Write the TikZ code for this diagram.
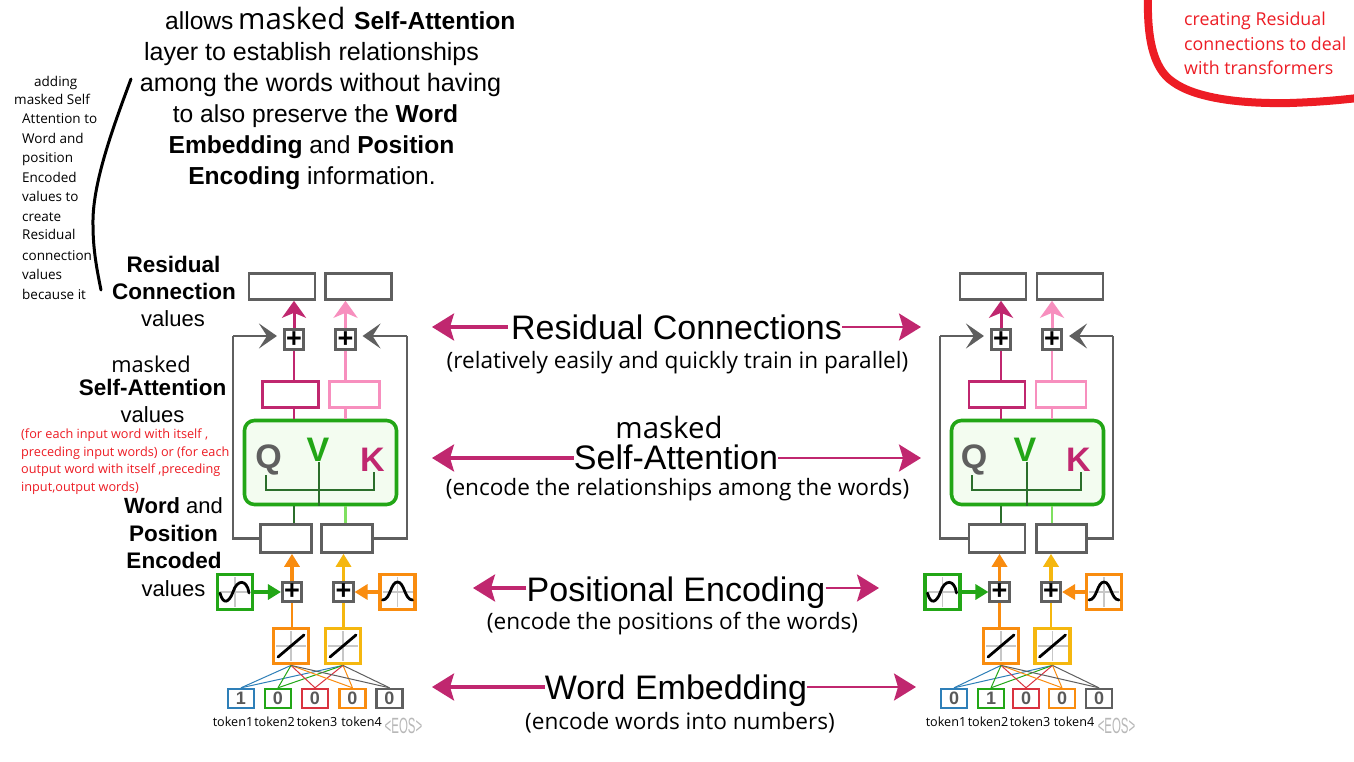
\documentclass[tikz,border=0pt]{standalone}
\usepackage{fontspec}
\usepackage{graphicx}
\setmainfont{Liberation Sans}
\newfontfamily\uifont{Open Sans}
\usetikzlibrary{arrows.meta,calc}
\definecolor{mag}{HTML}{C0276F}
\definecolor{lpink}{HTML}{F78FBE}
\definecolor{gbox}{HTML}{5F5F5F}
\definecolor{grn}{HTML}{22A616}
\definecolor{dgrn}{HTML}{2B6E2B}
\definecolor{lgrn}{HTML}{7FE060}
\definecolor{paleg}{HTML}{F3FCF0}
\definecolor{org}{HTML}{F98C0F}
\definecolor{yel}{HTML}{F5B70F}
\definecolor{blu}{HTML}{2E7FB8}
\definecolor{rd}{HTML}{D9333F}
\definecolor{noteRed}{HTML}{ED1C24}
\newcommand{\fs}[1]{\fontsize{#1}{#1}\selectfont}
\tikzset{
 x=1pt,y=-1pt,
 txt/.style={inner sep=0pt,anchor=base,text=black},
 big/.style={txt,font=\fs{34}},
 sub/.style={txt,font=\uifont\fs{22.6}},
 top/.style={txt,font=\fs{25}},
 lab/.style={txt,font=\fs{22}},
 note/.style={inner sep=0pt,anchor=base west,font=\uifont\fs{13.5}},
 rednote/.style={inner sep=0pt,anchor=base west,text=noteRed,font=\uifont\fs{12.7}},
 rednoteb/.style={inner sep=0pt,anchor=base west,text=noteRed,font=\uifont\fs{17.8}},
 tok/.style={inner sep=0pt,anchor=base,font=\uifont\fs{12.6}},
 bx/.style n args={3}{draw=#1,line width=2.6pt,fill=white,inner sep=0pt,minimum width=#2 pt,minimum height=#3 pt},
 plusbox/.style={draw=gbox,line width=2.6pt,fill=white,inner sep=0pt,minimum size=19.5pt,font=\bfseries\fs{27}},
 tokbox/.style={draw=#1,line width=2.4pt,fill=white,inner sep=0pt,minimum width=26pt,minimum height=19pt,text=black!65,font=\bfseries\fs{18}},
 icon/.style={draw=#1,line width=3.8pt,fill=white,inner sep=0pt,minimum size=35pt},
 attn/.style={draw=grn,line width=3.6pt,fill=paleg,rounded corners=10pt,inner sep=0pt,minimum width=152pt,minimum height=84pt},
 magarrow/.style={draw=mag,line width=#1,-{Stealth[length=22pt,width=27pt,inset=4pt,fill=mag]}},
 magarrow/.default=3.2pt,
 pinkarrow/.style={draw=#1,line width=3pt,-{Stealth[length=17pt,width=24pt,inset=5pt,fill=#1]}},
 conn/.style={draw=#1,line width=2.8pt},
 chevron/.style={draw=gbox,line width=2.2pt,-{Stealth[length=18pt,width=25pt,inset=8pt,fill=gbox]},shorten >=6pt},
 feed/.style={draw=gbox,line width=2.2pt},
 uparrow/.style={draw=#1,line width=3.5pt,-{Stealth[length=13pt,width=15pt,inset=0pt,fill=#1]}},
 fan/.style={draw=#1,line width=1pt},
 grid/.style={draw=black!22,line width=1.8pt},
 curve/.style={draw=black,line width=2.8pt,line cap=round},
 glyph/.style={inner sep=0pt,anchor=center,font=\bfseries\fs{34}},
 tree/.style={draw=dgrn,line width=2pt},
}
\newcommand{\sinicon}[1]{\begin{scope}[shift={(#1.center)}]
 \draw[grid] (-15,0) -- (15,0) (0,-15) -- (0,15);
 \draw[curve] (-15,1) .. controls (-12,13) and (-6,11) .. (-2,0) .. controls (2,-13) and (12,-13) .. (14,1);
 \end{scope}}
\newcommand{\gaussicon}[1]{\begin{scope}[shift={(#1.center)}]
 \draw[grid] (-15,0) -- (15,0) (0,-15) -- (0,15);
 \draw[curve] (-15,8) .. controls (-7,8) and (-7,-10) .. (0,-10) .. controls (7,-10) and (7,8) .. (15,8);
 \end{scope}}
\newcommand{\linicon}[1]{\begin{scope}[shift={(#1.center)}]
 \draw[grid] (-15,0) -- (15,0) (0,-15) -- (0,15);
 \draw[curve] (-13,11) -- (13,-11);
 \end{scope}}
% connectors common to both stacks, by node names with prefix #1
\newcommand{\stacklinks}[1]{
 \draw[pinkarrow=mag] (#1p1.north) -- (#1p1.north |- #1t1.south);
 \draw[pinkarrow=lpink] (#1p2.north) -- (#1p2.north |- #1t2.south);
 \draw[conn=mag] (#1p1.south) -- (#1p1.south |- #1m1.north);
 \draw[conn=lpink] (#1p2.south) -- (#1p2.south |- #1m2.north);
 \draw[feed] (#1w1.west) -| (#1fl);
 \draw[feed] (#1w2.east) -| (#1fr);
 \draw[chevron] (#1fl) -- (#1fl -| #1p1.west);
 \draw[chevron] (#1fr) -- (#1fr -| #1p2.east);
 \draw[uparrow=org] (#1a1.north) -- (#1a1.north |- #1w1.south);
 \draw[uparrow=yel] (#1a2.north) -- (#1a2.north |- #1w2.south);
 \draw[uparrow=grn] (#1s.east) -- (#1a1.west);
 \draw[uparrow=org] (#1g.west) -- (#1a2.east);
 \draw[conn=org] (#1a1.south |- #1l1.north) -- (#1a1.south);
 \draw[conn=yel] (#1a2.south |- #1l2.north) -- (#1a2.south);
 \foreach \t/\c in {1/blu,2/grn,3/rd,4/org,5/gbox}{
  \draw[fan=\c] (#1t\t b.north) -- (#1l1.south);
  \draw[fan=\c] (#1t\t b.north) -- (#1l2.south);
 }
 \sinicon{#1s}\gaussicon{#1g}\linicon{#1l1}\linicon{#1l2}
}
\begin{document}
\begin{tikzpicture}
\useasboundingbox (0,0) rectangle (1354,762);
\fill[white] (0,0) rectangle (1354,762);

% ---- left stack
\node[bx={gbox}{66}{26}] (Lt1) at (282,286.5) {};
\node[bx={gbox}{66}{26}] (Lt2) at (358.5,286.5) {};
\node[plusbox] (Lp1) at (294,339.5) {+};
\node[plusbox] (Lp2) at (345.5,339.5) {+};
\node[bx={mag}{56}{26}] (Lm1) at (290.5,394.5) {};
\node[bx={lpink}{50}{26}] (Lm2) at (354.5,394.5) {};
\node[bx={gbox}{51}{28}] (Lw1) at (286,538.5) {};
\node[bx={gbox}{51}{28}] (Lw2) at (347,538.5) {};
\node[plusbox] (La1) at (292,592) {+};
\node[plusbox] (La2) at (343.5,592) {+};
\node[icon=grn] (Ls) at (235,592) {};
\node[icon=org] (Lg) at (397.5,592) {};
\node[icon=org] (Ll1) at (291,646) {};
\node[icon=yel] (Ll2) at (343,646) {};
\node[tokbox=blu] (Lt1b) at (241,698.5) {1};
\node[tokbox=grn] (Lt2b) at (278,698.5) {0};
\node[tokbox=rd] (Lt3b) at (315,698.5) {0};
\node[tokbox=org] (Lt4b) at (352.5,698.5) {0};
\node[tokbox=gbox] (Lt5b) at (389.5,698.5) {0};
\coordinate (Lfl) at (233,336);
\coordinate (Lfr) at (407,336);
\stacklinks{L}
\node[attn] (La) at (320.5,462.5) {};
\draw[conn=mag] (Lm1.south -| Lp1) -- (Lp1 |- La.north);
\draw[conn=lpink] (Lm2.south -| Lp2) -- (Lp2 |- La.north);
\draw[conn=dgrn] (Lp1 |- La.south) -- (Lp1 |- Lw1.north);
\draw[conn=lgrn] (Lp2 |- La.south) -- (Lp2 |- Lw2.north);
\node[glyph,text=gbox] (LQ) at (268.5,460) {Q};
\node[glyph,text=grn] (LV) at (318,450) {V};
\node[glyph,text=mag] (LK) at (372.5,460) {K};
\draw[tree] ([xshift=-2.5pt]LQ.south) -- ([xshift=-2.5pt]LQ.south |- 0,490) -- ([xshift=1.5pt]LK.south |- 0,490) -- ([xshift=1.5pt]LK.south);
\draw[tree] ([xshift=1pt]LV.south) -- ([xshift=1pt]LV.south |- La.south);

% ---- right stack
\node[bx={gbox}{66}{26}] (Rt1) at (993,286.5) {};
\node[bx={gbox}{66}{26}] (Rt2) at (1070,286.5) {};
\node[plusbox] (Rp1) at (1001,339.5) {+};
\node[plusbox] (Rp2) at (1052,339.5) {+};
\node[bx={mag}{56}{26}] (Rm1) at (997,394.5) {};
\node[bx={lpink}{50}{26}] (Rm2) at (1061,394.5) {};
\node[bx={gbox}{56}{28}] (Rw1) at (997,538.5) {};
\node[bx={gbox}{50}{28}] (Rw2) at (1061.5,538.5) {};
\node[plusbox] (Ra1) at (999.5,592) {+};
\node[plusbox] (Ra2) at (1051,592) {+};
\node[icon=grn] (Rs) at (942.5,592) {};
\node[icon=org] (Rg) at (1104,592) {};
\node[icon=org] (Rl1) at (1001,646) {};
\node[icon=yel] (Rl2) at (1052.5,646) {};
\node[tokbox=blu] (Rt1b) at (954,698.5) {0};
\node[tokbox=grn] (Rt2b) at (991,698.5) {1};
\node[tokbox=rd] (Rt3b) at (1026,698.5) {0};
\node[tokbox=org] (Rt4b) at (1062,698.5) {0};
\node[tokbox=gbox] (Rt5b) at (1099,698.5) {0};
\coordinate (Rfl) at (940,336);
\coordinate (Rfr) at (1113,336);
\stacklinks{R}
\node[attn] (Ra) at (1027.5,462.5) {};
\draw[conn=mag] (Rm1.south -| Rp1) -- (Rp1 |- Ra.north);
\draw[conn=lpink] (Rm2.south -| Rp2) -- (Rp2 |- Ra.north);
\draw[conn=dgrn] (Rp1 |- Ra.south) -- (Rp1 |- Rw1.north);
\draw[conn=lgrn] (Rp2 |- Ra.south) -- (Rp2 |- Rw2.north);
\node[glyph,text=gbox] (RQ) at (974,460) {Q};
\node[glyph,text=grn] (RV) at (1025,450) {V};
\node[glyph,text=mag] (RK) at (1078.5,460) {K};
\draw[tree] ([xshift=-2pt]RQ.south) -- ([xshift=-2pt]RQ.south |- 0,490) -- ([xshift=2.5pt]RK.south |- 0,490) -- ([xshift=2.5pt]RK.south);
\draw[tree] ([xshift=2pt]RV.south) -- ([xshift=2pt]RV.south |- Ra.south);

% ---- token labels
\foreach \n/\x/\t in {a/233/token1,b/274.5/token2,c/317/token3,d/361.5/token4,e/946/token1,f/988/token2,g/1030/token3,h/1074/token4}{
 \node[tok] (tk\n) at (\x,726) {\t};
}
\node[inner sep=0pt,anchor=base,text=black!28,font=\fs{22}] (eosL) at (403.5,733) {\scalebox{.52}[1]{<EOS>}};
\node[inner sep=0pt,anchor=base,text=black!28,font=\fs{22}] (eosR) at (1116.5,733) {\scalebox{.52}[1]{<EOS>}};

% ---- central labels and arrows
\node[big] (cRC) at (676.5,339) {Residual Connections};
\node[sub] (sRC) at (677.5,368) {(relatively easily and quickly train in parallel)};
\node[txt,font=\uifont\fs{29.4}] (cM) at (669,438) {masked};
\node[big] (cSA) at (676,469) {Self-Attention};
\node[sub] (sSA) at (677.5,495) {(encode the relationships among the words)};
\node[big] (cPE) at (676,601) {Positional Encoding};
\node[sub] (sPE) at (672.5,629) {(encode the positions of the words)};
\node[big] (cWE) at (676,699) {Word Embedding};
\node[sub] (sWE) at (680,729) {(encode words into numbers)};
\coordinate (aRCl) at (432,327); \coordinate (aRCr) at (921,327);
\coordinate (aSAl) at (432,458); \coordinate (aSAr) at (921,458);
\coordinate (aPEl) at (473,588); \coordinate (aPEr) at (879,588);
\coordinate (aWEl) at (432,687); \coordinate (aWEr) at (916,687);
\draw[magarrow] (cRC.west |- aRCl) ++(-3,0) -- (aRCl);
\draw[magarrow=2.4pt] (cRC.east |- aRCr) -- (aRCr);
\draw[magarrow] (cSA.west |- aSAl) -- (aSAl);
\draw[magarrow=2.8pt] (cSA.east |- aSAr) -- (aSAr);
\draw[magarrow] (cPE.west |- aPEl) -- (aPEl);
\draw[magarrow=2.4pt] (cPE.east |- aPEr) -- (aPEr);
\draw[magarrow] (cWE.west |- aWEl) -- (aWEl);
\draw[magarrow=2.4pt] (cWE.east |- aWEr) -- (aWEr);

% ---- top explanatory text
\node[txt,anchor=base west,font=\fs{24.6}] (t1a) at (165,30) {allows};
\node[txt,anchor=base west,font=\uifont\fs{29.4}] (t1b) at (238,30) {masked};
\node[txt,anchor=base west,font=\bfseries\fs{24.6}] (t1c) at (354,30) {Self-Attention};
\node[top] (t2) at (311.5,61) {layer to establish relationships};
\node[top,font=\fs{25.2}] (t3) at (320.5,92) {among the words without having};
\node[top,font=\fs{24.6}] (t4) at (315.5,123) {to also preserve the \textbf{Word}};
\node[top,font=\fs{24.6}] (t5) at (311.5,154) {\textbf{Embedding} and \textbf{Position}};
\node[top,font=\fs{24.6}] (t6) at (312,185) {\textbf{Encoding} information.};

% ---- left side note
\node[note,anchor=base west] (n1) at (34,87) {adding};
\node[note] (n2) at (14,105) {masked Self};
\foreach \m/\y/\t in {3/124/Attention to,4/144/Word and,5/163/position,6/183/Encoded,7/202/values to,8/222/create,9/240/Residual,10/260/connection,11/279/values,12/299/because it}{
 \node[note] (n\m) at (22,\y) {\t};
}
\draw[black,line width=3pt,line cap=round] (131,79) .. controls (112,130) and (92,185) .. (93,225) .. controls (93,250) and (97,270) .. (101,290);

% ---- left labels
\node[lab,font=\bfseries\fs{22.5}] (lRes) at (173.5,272) {Residual};
\node[lab,font=\bfseries\fs{22.5}] (lCon) at (174,299) {Connection};
\node[lab] (lVal) at (173,326) {values};
\node[txt,font=\uifont\fs{21.8}] (lM) at (151,372) {masked};
\node[lab,font=\bfseries\fs{22.5}] (lSA) at (152.5,395) {Self-Attention};
\node[lab] (lV2) at (152.5,422) {values};
\node[rednote] (r1) at (21,438) {(for each input word with itself ,};
\node[rednote] (r2) at (21,456) {preceding input words) or (for each};
\node[rednote] (r3) at (21,473) {output word with itself ,preceding};
\node[rednote] (r4) at (21,491) {input,output words)};
\node[lab] (lW) at (173.5,513) {\textbf{Word} and};
\node[lab,font=\bfseries\fs{22.5}] (lP) at (173.5,541) {Position};
\node[lab,font=\bfseries\fs{22.5}] (lE) at (174,568) {Encoded};
\node[lab] (lV3) at (173.5,596) {values};

% ---- top-right note
\draw[noteRed,line width=8pt] (1148,-4) .. controls (1147,35) and (1152,68) .. (1173,82) .. controls (1195,98) and (1240,104) .. (1290,103) .. controls (1320,102) and (1340,100) .. (1358,98);
\node[rednoteb] (q1) at (1184,26) {creating Residual};
\node[rednoteb] (q2) at (1184,51) {connections to deal};
\node[rednoteb] (q3) at (1184,75) {with transformers};
\end{tikzpicture}
\end{document}
